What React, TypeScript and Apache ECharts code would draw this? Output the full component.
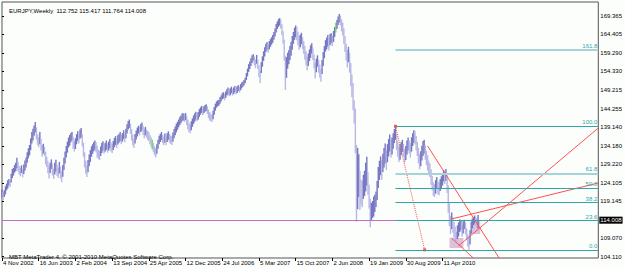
import React, { useEffect, useRef } from 'react';
import * as echarts from 'echarts';

// ---- data ----
const titleText = 'EURJPY,Weekly  112.752 115.417 111.764 114.008';
const copyrightText = 'MBT MetaTrader 4, \u00A9 2001-2010 MetaQuotes Software Corp.';
const dateLabels = ['4 Nov 2002', '16 Jun 2003', '2 Feb 2004', '13 Sep 2004', '25 Apr 2005', '12 Dec 2005', '24 Jul 2006', '5 Mar 2007', '15 Oct 2007', '2 Jun 2008', '19 Jan 2009', '30 Aug 2009', '11 Apr 2010'];
const barsPerLabel = 32;
const priceTicks = [104.110, 109.070, 119.145, 124.105, 129.220, 134.180, 139.140, 144.255, 149.215, 154.330, 159.290, 164.405, 169.365];
const lastClose = 114.008;

const lows = [
  120.2, 119.4, 120.3, 121.0, 122.1, 122.6, 123.4, 123.0, 124.2, 125.4,
  126.1, 126.9, 127.3, 128.1, 127.2, 126.4, 125.9, 126.8, 125.6, 126.5,
  127.4, 128.3, 129.6, 130.8, 131.6, 133.0, 134.8, 135.6, 136.9, 137.8,
  135.9, 134.4, 133.8, 134.6, 132.9, 131.2, 132.0, 131.5, 129.1, 128.4,
  126.7, 125.3, 126.8, 127.9, 126.1, 125.2, 126.4, 127.2, 126.0, 125.5,
  126.7, 125.3, 124.3, 125.8, 127.6, 129.4, 131.0, 132.3, 133.7, 134.2,
  135.1, 135.6, 133.4, 132.6, 133.3, 134.6, 135.5, 134.8, 136.1, 136.4,
  134.0, 131.2, 128.3, 126.6, 125.7, 127.0, 128.6, 129.8, 131.2, 132.0,
  132.7, 133.1, 132.4, 131.0, 130.6, 130.3, 131.4, 132.2, 132.8, 132.0,
  132.6, 133.1, 132.3, 132.9, 133.5, 132.7, 132.2, 133.0, 133.8, 134.4,
  133.6, 134.5, 135.0, 135.4, 134.6, 135.3, 136.0, 135.1, 136.2, 137.5,
  138.6, 139.0, 137.4, 135.6, 134.3, 133.6, 134.8, 135.9, 136.7, 137.5,
  137.0, 137.9, 138.3, 137.1, 136.2, 137.0, 136.4, 135.8, 135.5, 134.6,
  133.8, 133.2, 132.4, 131.6, 131.1, 132.0, 133.4, 134.6, 135.2, 135.7,
  134.9, 134.3, 135.0, 134.4, 135.2, 135.8, 135.1, 134.7, 134.4, 135.3,
  136.2, 137.0, 137.8, 138.5, 139.2, 139.8, 140.3, 140.8, 141.0, 140.6,
  141.1, 139.8, 138.6, 137.9, 137.6, 138.4, 139.3, 140.1, 140.7, 141.3,
  140.8, 141.2, 142.0, 142.6, 143.1, 142.5, 143.0, 143.4, 143.6, 142.8,
  141.7, 141.0, 140.9, 140.6, 141.4, 142.6, 143.7, 144.5, 144.9, 145.0,
  145.6, 146.2, 146.8, 147.0, 146.5, 147.1, 147.8, 148.1, 147.6, 147.9,
  148.4, 147.8, 148.2, 148.7, 148.1, 148.5, 149.0, 148.6, 149.2, 149.8,
  150.2, 150.6, 151.1, 152.0, 153.0, 154.2, 155.0, 155.8, 156.6, 157.2,
  156.0, 155.2, 156.4, 155.0, 152.8, 151.2, 153.9, 155.6, 157.2, 158.4,
  159.6, 160.1, 159.4, 160.3, 161.0, 161.6, 162.1, 162.9, 163.8, 164.9,
  165.8, 166.4, 166.8, 166.0, 164.2, 161.9, 157.3, 149.3, 152.6, 155.1,
  156.3, 157.4, 158.6, 160.2, 161.8, 162.9, 163.6, 162.8, 161.4, 160.2,
  160.9, 161.7, 160.4, 159.1, 157.5, 156.0, 154.6, 155.8, 157.1, 158.0,
  159.2, 157.4, 155.2, 152.4, 154.1, 155.6, 154.0, 152.7, 151.5, 153.6,
  155.8, 157.9, 159.7, 160.3, 161.1, 160.0, 161.4, 162.0, 161.2, 162.3,
  163.7, 164.9, 165.8, 166.9, 167.6, 166.8, 165.2, 164.1, 161.8, 159.6,
  157.2, 155.4, 156.8, 154.0, 150.3, 147.4, 143.8, 140.2, 132.2, 113.6,
  117.0, 120.3, 116.8, 118.2, 117.5, 119.8, 120.6, 121.8, 123.4, 120.9,
  117.2, 112.1, 113.8, 114.6, 115.0, 116.2, 117.6, 119.5, 122.7, 124.9,
  126.2, 125.0, 127.1, 128.3, 129.4, 127.6, 129.7, 131.3, 132.6, 130.9,
  131.8, 133.4, 134.9, 135.8, 133.0, 131.2, 129.8, 130.4, 131.7, 132.5,
  131.2, 129.6, 130.3, 131.8, 132.9, 132.1, 131.0, 132.6, 134.1, 135.0,
  134.6, 132.9, 131.4, 129.4, 127.8, 128.6, 130.2, 131.4, 132.0, 130.4,
  128.9, 127.5, 126.2, 125.7, 123.6, 122.1, 120.6, 120.3, 121.2, 122.5,
  121.0, 120.8, 121.9, 122.6, 123.4, 124.5, 123.8, 124.6, 121.4, 116.0,
  112.4, 110.3, 111.6, 110.7, 109.3, 108.4, 107.8, 108.9, 109.6, 110.8,
  111.3, 109.5, 110.4, 111.6, 110.2, 108.6, 106.9, 106.0, 107.4, 110.3,
  111.8, 112.7, 113.1, 112.4, 111.9, 111.764
];

const highs = [
  122.4, 121.6, 122.1, 123.2, 123.9, 124.8, 125.2, 124.9, 126.6, 127.9,
  128.2, 129.0, 129.6, 130.9, 129.8, 128.7, 128.2, 128.9, 127.8, 129.1,
  130.2, 131.0, 132.4, 133.5, 134.4, 136.2, 137.9, 138.8, 139.7, 140.6,
  139.2, 137.3, 136.5, 137.9, 136.1, 134.4, 134.7, 133.9, 132.6, 131.2,
  130.1, 128.8, 129.6, 130.5, 129.3, 128.0, 129.6, 130.4, 129.1, 128.2,
  129.8, 128.5, 127.4, 129.0, 130.9, 132.6, 134.1, 135.3, 136.4, 137.1,
  137.6, 137.9, 136.6, 135.4, 136.2, 137.3, 138.1, 137.4, 138.6, 139.0,
  137.3, 135.0, 132.4, 130.1, 128.9, 130.3, 131.8, 133.0, 134.0, 134.6,
  135.2, 135.6, 135.1, 134.2, 133.1, 132.8, 134.0, 134.9, 135.4, 134.5,
  135.0, 135.6, 134.8, 135.3, 136.0, 135.1, 134.7, 135.5, 136.3, 136.8,
  136.1, 137.0, 137.4, 137.9, 137.1, 137.6, 138.4, 137.5, 138.8, 140.0,
  140.9, 141.3, 140.2, 138.7, 137.2, 136.0, 137.4, 138.3, 139.1, 139.6,
  139.4, 140.1, 140.5, 139.6, 138.8, 139.3, 138.6, 138.2, 137.9, 137.0,
  136.5, 135.8, 134.9, 134.0, 133.5, 134.6, 135.8, 136.9, 137.4, 137.9,
  137.2, 136.6, 137.5, 136.8, 137.6, 138.1, 137.5, 137.0, 136.8, 137.8,
  138.7, 139.4, 140.2, 140.7, 141.3, 142.0, 142.4, 142.9, 143.0, 142.8,
  143.1, 142.3, 141.2, 140.4, 139.9, 140.8, 141.6, 142.4, 143.0, 143.4,
  143.0, 143.3, 144.1, 144.6, 145.0, 144.5, 144.9, 145.2, 145.4, 144.9,
  144.0, 143.3, 142.9, 142.6, 143.7, 144.7, 145.6, 146.2, 146.5, 146.6,
  147.3, 147.8, 148.4, 148.7, 148.3, 148.9, 149.5, 150.0, 149.4, 149.8,
  150.2, 149.6, 150.0, 150.4, 149.9, 150.3, 150.6, 150.2, 150.9, 151.3,
  151.6, 152.0, 152.6, 153.9, 155.1, 156.3, 157.0, 157.9, 158.7, 159.0,
  158.4, 157.6, 158.8, 157.5, 156.0, 154.6, 156.8, 158.4, 159.8, 160.9,
  161.8, 162.3, 161.6, 162.5, 163.1, 163.6, 164.2, 165.0, 166.0, 167.2,
  167.9, 168.5, 168.8, 168.4, 167.1, 165.3, 163.0, 158.6, 158.2, 159.4,
  160.1, 161.2, 162.4, 163.9, 165.0, 166.2, 166.8, 166.4, 165.1, 163.9,
  164.3, 164.8, 163.6, 162.5, 161.2, 159.8, 158.4, 159.2, 160.3, 161.4,
  162.0, 160.8, 158.9, 156.6, 157.8, 158.7, 157.5, 156.2, 155.0, 157.4,
  159.6, 161.2, 162.8, 163.5, 164.2, 163.3, 164.5, 164.7, 164.0, 165.3,
  166.4, 167.5, 168.3, 169.2, 169.9, 169.5, 168.4, 167.6, 166.0, 163.9,
  161.8, 160.2, 161.0, 159.4, 156.6, 153.5, 151.2, 146.5, 144.3, 134.4,
  133.6, 131.9, 127.4, 125.0, 124.7, 126.3, 127.4, 129.6, 131.2, 127.0,
  123.6, 119.8, 118.7, 119.2, 120.4, 120.9, 121.8, 124.6, 128.4, 130.1,
  131.3, 130.4, 132.0, 133.6, 134.8, 133.0, 134.6, 136.0, 137.2, 135.8,
  136.4, 137.6, 138.7, 139.5, 137.4, 135.4, 133.9, 134.6, 135.2, 135.8,
  134.7, 133.3, 134.1, 135.6, 136.4, 135.7, 134.9, 136.5, 137.6, 138.4,
  138.2, 136.8, 135.2, 133.6, 131.9, 132.7, 134.2, 135.5, 135.8, 134.3,
  132.8, 131.6, 130.1, 129.4, 127.8, 126.0, 124.3, 123.8, 124.9, 125.7,
  124.6, 124.2, 125.2, 125.9, 126.8, 127.6, 127.3, 127.9, 126.2, 123.4,
  118.6, 115.2, 116.1, 114.8, 113.6, 112.3, 110.9, 112.6, 113.4, 114.2,
  113.9, 112.8, 113.7, 114.1, 113.4, 111.8, 110.2, 109.4, 111.3, 113.6,
  114.5, 114.9, 115.3, 114.8, 114.6, 115.417
];

const greenBars = [131, 291];

// Fibonacci retracement anchors [bar index, price]
const fibHigh = [343, 139.46];
const fibLow = [368.4, 105.97];
const fibLevels = [0, 23.6, 38.2, 50, 61.8, 100, 161.8];
const fibLightLevels = [61.8, 161.8];

// trend lines [[bar, price], [bar, price]]
const trendLines = [
  [[371.0, 134.12], [433.3, 103.76]],
  [[391.8, 114.33], [519.8, 124.09]],
  [[397.8, 107.01], [519.8, 138.99]],
  [[391.8, 109.18], [410.8, 103.76]],
];

// thistle rectangles [[bar, price], [bar, price]]
const boxes = [
  [[390.1, 109.18], [402.2, 106.47]],
  [[409.1, 114.06], [416.9, 110.26]],
];

// ---- view ----
const X_MIN = 0;
const X_MAX = 519.8;
const Y_MIN = 103.757;
const Y_MAX = 173.15;
const FONT = "'Liberation Sans Narrow', 'Liberation Sans', Arial, sans-serif";
const DARK = '#7777c2';
const LIGHT = '#b8b8e6';
const GREEN = '#66dd66';
const RED = '#ff5050';
const TEAL = '#2fa7a3';
const TEAL_LIGHT = '#a4d4da';

export default function App() {
  const ref = useRef<HTMLDivElement>(null);
  useEffect(() => {
    if (!ref.current) return;
    const chart = echarts.init(ref.current, null, { renderer: 'svg' });

    const barData = lows.map((lo, i) => {
      const mid = (lo + highs[i]) / 2;
      const prevMid = i > 0 ? (lows[i - 1] + highs[i - 1]) / 2 : mid;
      const kind = greenBars.includes(i) ? 2 : mid >= prevMid ? 0 : 1;
      return [i, lo, highs[i], kind];
    });

    const fibMarks = fibLevels.map((lvl) => {
      const price = fibLow[1] + (fibHigh[1] - fibLow[1]) * lvl / 100;
      const light = fibLightLevels.includes(lvl);
      return [
        {
          coord: [fibHigh[0], price],
          lineStyle: { color: light ? TEAL_LIGHT : TEAL, width: light ? 2 : 1, type: 'solid' },
          label: {
            show: true,
            formatter: lvl.toFixed(1),
            position: 'insideEndTop',
            color: TEAL,
            fontSize: 6,
            fontFamily: FONT,
            distance: 1,
          },
        },
        { coord: [X_MAX, price] },
      ];
    });

    const series: any[] = [
      {
        type: 'line',
        name: 'boxes',
        z: 1,
        data: [],
        showSymbol: false,
        silent: true,
        markArea: {
          silent: true,
          itemStyle: { color: '#dcc0dc' },
          data: boxes.map((b) => [{ coord: b[0] }, { coord: b[1] }]),
        },
      },
      {
        type: 'custom',
        name: 'EURJPY',
        z: 2,
        data: barData,
        encode: { x: 0, y: [1, 2] },
        renderItem: (params: any, api: any) => {
          const v = api.value(0);
          const top = api.coord([v, api.value(2)]);
          const bot = api.coord([v, api.value(1)]);
          const k = api.value(3);
          return {
            type: 'rect',
            shape: { x: top[0] - 0.7, y: top[1], width: 1.4, height: Math.max(1, bot[1] - top[1]) },
            style: { fill: k === 2 ? GREEN : k === 0 ? DARK : LIGHT },
          };
        },
        markLine: {
          silent: true,
          symbol: ['none', 'none'],
          data: [
            {
              yAxis: lastClose,
              lineStyle: { color: '#c66ac6', width: 1, type: 'solid' },
              label: {
                show: true,
                position: 'end',
                formatter: lastClose.toFixed(3),
                backgroundColor: '#000',
                color: '#fff',
                fontSize: 6,
                fontFamily: FONT,
                padding: [1, 1, 0, 1],
                distance: 1,
              },
            },
          ],
        },
      },
      {
        type: 'line',
        name: 'fib',
        z: 3,
        data: [fibHigh, fibLow],
        symbol: 'rect',
        symbolSize: 3,
        showSymbol: true,
        itemStyle: { color: RED },
        lineStyle: { color: RED, width: 1, type: 'dotted' },
        markLine: {
          silent: true,
          symbol: ['none', 'none'],
          data: fibMarks,
        },
      },
      ...trendLines.map((t, i) => ({
        type: 'line',
        name: 'trend' + i,
        z: 4,
        data: t,
        showSymbol: false,
        lineStyle: { color: RED, width: 1 },
      })),
    ];

    chart.setOption({
      animation: false,
      backgroundColor: '#fcfefc',
      title: [
        {
          text: titleText,
          left: 4,
          top: 3,
          textStyle: { fontSize: 6, fontWeight: 'normal', color: '#000', fontFamily: FONT },
        },
        {
          text: copyrightText,
          left: 4,
          top: 249,
          textStyle: { fontSize: 6, fontWeight: 'normal', color: '#000', fontFamily: FONT },
        },
      ],
      grid: {
        left: 2,
        top: 2,
        width: 601,
        height: 256,
        show: true,
        borderColor: '#555',
        borderWidth: 1,
        backgroundColor: 'transparent',
      },
      xAxis: {
        type: 'value',
        min: X_MIN,
        max: X_MAX,
        axisLine: { show: false },
        splitLine: { show: false },
        axisTick: {
          show: true,
          length: 3,
          customValues: dateLabels.map((_, i) => i * barsPerLabel),
          lineStyle: { color: '#000' },
        },
        axisLabel: {
          customValues: dateLabels.map((_, i) => i * barsPerLabel),
          formatter: (v: number) => dateLabels[Math.round(v / barsPerLabel)] || '',
          align: 'left',
          margin: 2,
          fontSize: 6,
          color: '#000',
          fontFamily: FONT,
          padding: [0, 0, 0, 1],
        },
      },
      yAxis: {
        type: 'value',
        position: 'right',
        min: Y_MIN,
        max: Y_MAX,
        axisLine: { show: false },
        splitLine: { show: false },
        axisTick: {
          show: true,
          length: 2,
          customValues: priceTicks,
          lineStyle: { color: '#000' },
        },
        axisLabel: {
          customValues: priceTicks,
          formatter: (v: number) => v.toFixed(3),
          margin: 2,
          fontSize: 6,
          color: '#000',
          fontFamily: FONT,
        },
      },
      series,
    });
    return () => chart.dispose();
  }, []);
  return <div ref={ref} style={{ position: 'absolute', left: 0, top: 0, width: 625, height: 268 }} />;
}
